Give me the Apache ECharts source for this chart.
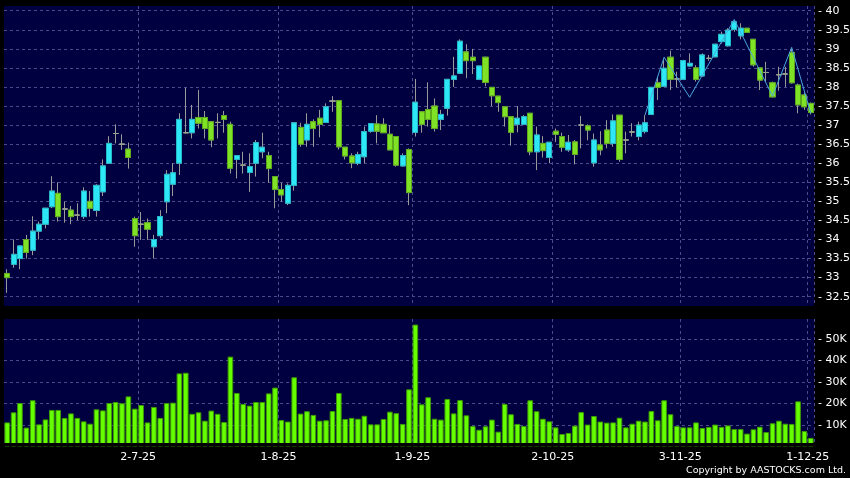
<!DOCTYPE html>
<html><head><meta charset="utf-8">
<script src="https://cdn.jsdelivr.net/npm/echarts@6/dist/echarts.min.js"></script>
<style>html,body{margin:0;padding:0;background:#000;}#c{width:850px;height:478px;}</style>
</head><body><div id="c"></div>
<script>
const dates = [
'2-6-25','3-6-25','4-6-25','5-6-25','6-6-25','9-6-25','10-6-25','11-6-25','12-6-25','13-6-25',
'16-6-25','17-6-25','18-6-25','19-6-25','20-6-25','23-6-25','24-6-25','25-6-25','26-6-25','27-6-25','30-6-25',
'2-7-25','3-7-25','4-7-25','7-7-25','8-7-25','9-7-25','10-7-25','11-7-25','14-7-25','15-7-25','16-7-25',
'17-7-25','18-7-25','21-7-25','22-7-25','23-7-25','24-7-25','25-7-25','28-7-25','29-7-25','30-7-25','31-7-25',
'1-8-25','4-8-25','5-8-25','6-8-25','7-8-25','8-8-25','11-8-25','12-8-25','13-8-25','14-8-25','15-8-25',
'18-8-25','19-8-25','20-8-25','21-8-25','22-8-25','25-8-25','26-8-25','27-8-25','28-8-25','29-8-25',
'1-9-25','2-9-25','3-9-25','4-9-25','5-9-25','8-9-25','9-9-25','10-9-25','11-9-25','12-9-25','15-9-25',
'16-9-25','17-9-25','18-9-25','19-9-25','22-9-25','23-9-25','24-9-25','25-9-25','26-9-25','29-9-25','30-9-25',
'2-10-25','3-10-25','6-10-25','8-10-25','9-10-25','10-10-25','13-10-25','14-10-25','15-10-25','16-10-25',
'17-10-25','20-10-25','21-10-25','22-10-25','23-10-25','24-10-25','27-10-25','28-10-25','30-10-25','31-10-25',
'3-11-25','4-11-25','5-11-25','6-11-25','7-11-25','10-11-25','11-11-25','12-11-25','13-11-25','14-11-25',
'17-11-25','18-11-25','19-11-25','20-11-25','21-11-25','24-11-25','25-11-25','26-11-25','27-11-25','28-11-25',
'1-12-25'];

const open = [33.11,33.35,33.50,34.00,33.72,34.22,34.40,34.86,35.21,34.80,
34.77,34.64,34.60,35.00,34.76,35.25,36.00,36.78,36.50,36.37,
34.55,34.40,34.44,33.81,34.10,34.99,35.45,36.00,36.80,36.80,
37.20,37.20,37.09,37.07,37.25,37.02,36.10,35.95,35.76,36.00,
36.30,36.20,35.65,35.31,34.95,35.42,36.94,36.61,37.09,37.18,
37.07,37.63,37.64,36.42,36.19,36.00,36.17,36.84,37.03,37.02,
36.76,36.70,35.93,36.36,36.81,37.35,37.41,37.50,37.15,37.44,
38.20,38.36,38.92,38.78,38.20,38.78,37.99,37.76,37.48,37.22,
37.02,37.02,37.31,36.30,36.52,36.15,36.84,36.70,36.35,36.56,
37.00,36.98,36.01,36.48,36.87,36.52,37.26,36.61,36.82,36.70,
36.83,37.28,38.11,38.02,38.78,38.21,38.20,38.55,38.50,38.29,
38.75,38.79,39.19,39.08,39.51,39.34,39.54,39.25,38.50,38.38,
38.11,38.32,38.34,38.90,38.05,37.79,37.57];

const close = [33.00,33.61,33.83,33.66,34.22,34.40,34.82,35.27,34.60,34.80,
34.60,34.64,35.27,34.82,35.42,35.93,36.52,36.78,36.50,36.15,
34.10,34.40,34.27,34.00,34.60,35.71,35.75,37.15,36.80,37.15,
37.05,36.91,36.61,37.07,37.15,35.87,36.20,35.95,35.91,36.54,
36.42,35.86,35.31,35.17,35.42,37.06,36.50,37.02,36.91,37.02,
37.48,37.63,36.43,36.19,36.01,36.23,36.83,37.04,36.84,36.80,
36.35,35.95,36.20,35.23,37.60,37.02,37.15,36.91,37.28,38.20,
38.29,39.20,38.69,38.69,38.55,38.12,37.77,37.59,37.22,36.81,
37.18,37.22,36.30,36.74,36.33,36.55,36.76,36.42,36.55,36.23,
37.00,36.87,36.61,36.35,36.52,37.11,36.10,36.61,36.82,37.00,
37.06,37.99,37.99,38.49,38.20,38.21,38.69,38.62,38.20,38.84,
38.75,39.12,39.38,39.49,39.71,39.54,39.43,38.58,38.18,38.38,
37.74,38.32,38.34,38.11,37.53,37.48,37.33];

const high = [33.22,34.00,33.85,34.12,34.61,34.47,34.82,35.66,35.50,34.99,
34.88,34.95,35.37,35.27,35.45,36.10,36.71,37.02,36.76,36.54,
34.60,34.72,34.55,34.12,34.77,35.82,36.00,37.31,37.98,37.53,
37.92,37.37,37.09,37.31,37.37,37.09,36.20,36.30,36.26,36.61,
36.80,36.30,35.65,35.49,35.47,37.06,37.06,37.31,37.15,37.40,
37.57,37.76,37.64,36.42,36.26,36.30,36.96,37.04,37.26,37.18,
37.00,36.70,36.26,36.39,38.21,37.35,38.12,37.70,37.40,38.20,
38.79,39.25,39.12,39.00,38.55,38.79,37.99,37.76,37.48,37.22,
37.50,37.26,37.31,36.96,36.71,36.55,36.91,36.80,36.74,36.61,
37.24,37.02,36.78,36.84,37.13,37.28,37.26,36.83,37.05,37.09,
37.26,37.99,38.27,38.72,38.95,38.40,38.71,38.88,38.57,38.88,
38.84,39.12,39.45,39.54,39.74,39.67,39.54,39.25,38.50,38.66,
38.14,38.53,38.53,39.00,38.09,37.85,37.59];

const low = [32.60,33.26,33.22,33.50,33.59,34.00,34.29,34.82,34.47,34.44,
34.40,34.51,34.54,34.60,34.60,35.14,36.00,36.52,36.35,35.86,
33.81,33.99,33.99,33.50,34.03,34.69,35.14,35.69,36.78,36.65,
36.91,36.65,36.42,36.65,36.80,35.73,35.60,35.73,35.25,35.65,
36.13,35.49,34.82,34.99,34.90,35.28,36.43,36.43,36.43,36.68,
37.07,37.35,36.36,36.10,35.87,35.95,36.00,36.80,36.52,36.80,
36.35,35.91,35.91,34.90,36.70,36.80,36.96,36.83,36.87,37.25,
38.00,38.34,38.23,38.34,38.18,38.02,37.50,37.35,36.96,36.46,
36.81,37.00,36.21,35.82,36.15,36.00,36.56,36.30,36.30,35.97,
36.39,36.60,35.91,36.21,36.39,36.43,36.04,36.26,36.70,36.60,
36.78,37.26,37.66,38.00,37.92,37.99,38.18,38.53,38.14,38.27,
38.69,38.79,39.14,39.06,39.45,39.25,39.43,38.53,37.92,38.14,
37.74,37.90,38.00,38.09,37.31,37.40,37.28];

const volume = [11200,15900,20200,8800,21500,10300,12600,17000,17000,13300,
15400,13300,11700,10600,17300,16800,20200,20700,20100,23300,
17600,19300,11200,18400,13300,20200,20400,34000,34300,15200,
15900,12000,16700,15200,11400,41800,24900,19800,19000,20700,
20700,24700,27400,12300,11600,32200,15300,16400,14700,12000,
12200,16500,24900,12800,13300,12900,14300,10300,10300,12800,
16200,15500,10500,26600,56700,19600,22900,12900,12500,22100,
15400,21600,14500,9500,7800,9400,12500,6900,19800,15000,
10500,9500,21500,16400,12900,11700,8900,5800,6300,9700,
16000,10200,14200,11600,11100,11200,13400,8900,10600,12000,
11600,16500,12200,21500,15000,9500,8900,8900,11200,8600,
9100,10200,9100,9800,8100,8100,6000,8000,9200,6700,
10800,12000,10600,10500,21000,7200,4000];

const zigzagDates = ['23-10-25','28-10-25','4-11-25','13-11-25','21-11-25','26-11-25','1-12-25'];
const zigzagValues = [37.26, 38.78, 37.73, 39.77, 37.76, 39.04, 37.31];

const priceTicks = {min: 32.5, max: 40, step: 0.5};
const volumeTicks = {min: 0, max: 59300, step: 10000};

const chart = echarts.init(document.getElementById('c'), null, {renderer: 'canvas'});
const monthOf = d => d.split('-')[1];
const isMonthStart = i => i > 0 && monthOf(dates[i]) !== monthOf(dates[i - 1]);

const wickData = dates.map((d, i) => [open[i], close[i], low[i], high[i]]);
const bodyData = dates.map((d, i) => [open[i], close[i], Math.min(open[i], close[i]), Math.max(open[i], close[i])]);
const zigData = zigzagDates.map((d, i) => [d, zigzagValues[i]]);

const L = 4, R = 36;
const navy = '#000040';
const gridLine = {color: '#4a4a8c', type: [3, 3], width: 1};
const font = 'DejaVu Sans';

chart.setOption({
  backgroundColor: '#000000',
  animation: false,
  grid: [
    {left: L, right: R, top: 6, height: 300, show: true, backgroundColor: navy, borderWidth: 0, outerBoundsMode: 'none'},
    {left: L, right: R, top: 10.7, height: 286, outerBoundsMode: 'none'},
    {left: L, right: R, top: 319, height: 124, show: true, backgroundColor: navy, borderWidth: 0, outerBoundsMode: 'none'},
    {left: L, right: R, top: 319, height: 127.5, outerBoundsMode: 'none'}
  ],
  xAxis: [
    {gridIndex: 0, type: 'category', data: dates, boundaryGap: true,
     axisLine: {show: false}, axisTick: {show: false}, axisLabel: {show: false},
     splitLine: {show: true, interval: (i) => isMonthStart(i), lineStyle: gridLine}},
    {gridIndex: 1, type: 'category', data: dates, boundaryGap: true, show: false},
    {gridIndex: 2, type: 'category', data: dates, boundaryGap: true, position: 'bottom', offset: 3.5,
     axisLine: {show: false},
     axisTick: {show: true, length: 3, interval: (i) => isMonthStart(i), lineStyle: {color: '#c8c8c8', width: 1}},
     axisLabel: {show: true, interval: (i) => isMonthStart(i), color: '#ffffff', fontFamily: font, fontSize: 11, margin: 5, padding: [0, 6, 0, 0]},
     splitLine: {show: true, interval: (i) => isMonthStart(i), lineStyle: gridLine}},
    {gridIndex: 3, type: 'category', data: dates, boundaryGap: true, show: false}
  ],
  yAxis: [
    {gridIndex: 0, type: 'value', show: false, min: 0, max: 1},
    {gridIndex: 1, type: 'value', position: 'right', min: priceTicks.min, max: priceTicks.max, interval: priceTicks.step,
     axisLine: {show: false}, axisTick: {show: false},
     axisLabel: {color: '#ffffff', fontFamily: font, fontSize: 11, margin: 4, formatter: v => '- ' + v},
     splitLine: {show: true, lineStyle: gridLine}},
    {gridIndex: 2, type: 'value', show: false, min: 0, max: 1},
    {gridIndex: 3, type: 'value', position: 'right', min: volumeTicks.min, max: volumeTicks.max, interval: volumeTicks.step,
     axisLine: {show: false}, axisTick: {show: false},
     axisLabel: {color: '#ffffff', fontFamily: font, fontSize: 11, margin: 4, showMinLabel: false, showMaxLabel: false,
                 formatter: v => '- ' + (v / 1000) + 'K'},
     splitLine: {show: true, showMinLine: false, showMaxLine: false, lineStyle: gridLine}}
  ],
  series: [
    {type: 'candlestick', name: 'wick', xAxisIndex: 1, yAxisIndex: 1, data: wickData, barWidth: 5.6, z: 2,
     itemStyle: {color: '#9a9a9a', color0: '#9a9a9a', borderColor: '#9a9a9a', borderColor0: '#9a9a9a', borderColorDoji: '#9a9a9a', borderWidth: 1}},
    {type: 'candlestick', name: 'body', xAxisIndex: 1, yAxisIndex: 1, data: bodyData, barWidth: 5.6, z: 3,
     itemStyle: {color: '#2de6f6', color0: '#80e226', borderColor: '#22b8c8', borderColor0: '#5caa1a', borderColorDoji: '#98a48c', borderWidth: 1}},
    {type: 'line', name: 'zigzag', xAxisIndex: 1, yAxisIndex: 1, data: zigData, symbol: 'none', z: 4,
     lineStyle: {color: '#4aa6e0', width: 1}},
    {type: 'bar', name: 'volume', xAxisIndex: 3, yAxisIndex: 3, data: volume, barWidth: 5.6, z: 2,
     itemStyle: {color: '#66ff00', borderColor: '#3d9a00', borderWidth: 1}}
  ],
  graphic: [
    {type: 'rect', shape: {x: 0, y: 443, width: 816, height: 3.3}, style: {fill: '#000000'}, z: 100, silent: true},
    {type: 'text', right: 4, top: 466, z: 100,
     style: {text: 'Copyright by AASTOCKS.com Ltd.', fill: '#ffffff', font: '9.5px "DejaVu Sans"'}}
  ]
});
</script>
</body></html>
